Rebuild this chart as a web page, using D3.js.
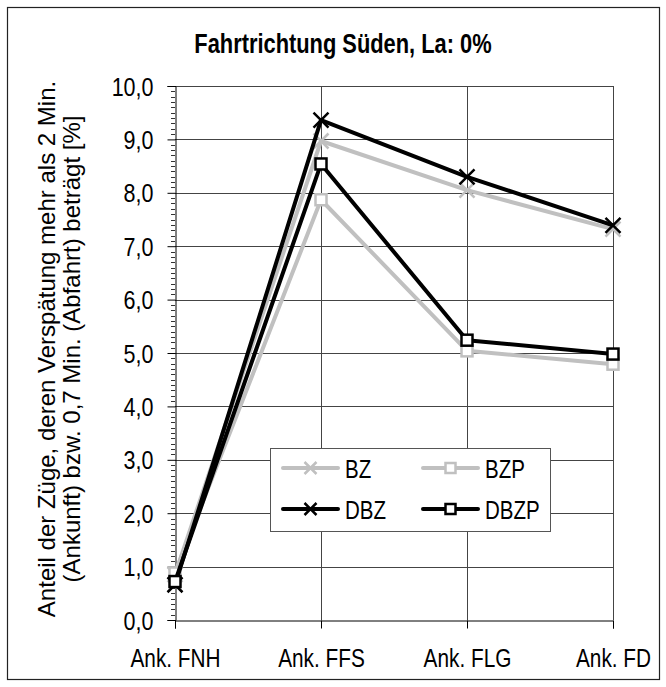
<!DOCTYPE html>
<html>
<head>
<meta charset="utf-8">
<script src="https://cdn.jsdelivr.net/npm/d3@7"></script>
<style>
  body { margin: 0; background: #fff; }
  svg text { font-family: "Liberation Sans", Arial, sans-serif; fill: #000; }
</style>
</head>
<body>
<div id="chart"></div>
<script>
var width = 666;
var height = 687;

var title = 'Fahrtrichtung Süden, La: 0%';
var yTitle = ['Anteil der Züge, deren Verspätung mehr als 2 Min.', '(Ankunft) bzw. 0,7 Min. (Abfahrt) beträgt [%]'];
var categories = ['Ank. FNH', 'Ank. FFS', 'Ank. FLG', 'Ank. FD'];
var yTicks = [0, 1, 2, 3, 4, 5, 6, 7, 8, 9, 10];

var seriesNames = ['BZ', 'BZP', 'DBZ', 'DBZP'];
var bz = [0.85, 8.97, 8.05, 7.32];
var bzp = [0.88, 7.87, 5.04, 4.79];
var dbz = [0.66, 9.36, 8.30, 7.39];
var dbzp = [0.72, 8.54, 5.24, 4.98];

var lightgrey = '#c0c0c0';
var black = '#000';

var series = [
  { name: seriesNames[0], values: bz, color: lightgrey, marker: 'x' },
  { name: seriesNames[1], values: bzp, color: lightgrey, marker: 'square' },
  { name: seriesNames[2], values: dbz, color: black, marker: 'x' },
  { name: seriesNames[3], values: dbzp, color: black, marker: 'square' }
];

var plot = { left: 175, right: 613, top: 86, bottom: 620 };

// squeeze text horizontally, the original uses a condensed font
function condense(sel, f) {
  sel.each(function() {
    var w = this.getComputedTextLength();
    d3.select(this)
      .attr('textLength', w * f)
      .attr('lengthAdjust', 'spacingAndGlyphs');
  });
}

var svg = d3.select('#chart').append('svg')
  .attr('width', width)
  .attr('height', height);

// outer frame
svg.append('rect')
  .attr('x', 7.5).attr('y', 7.5)
  .attr('width', 652).attr('height', 672)
  .attr('fill', '#fff')
  .attr('stroke', '#222')
  .attr('stroke-width', 1.2);

var titleText = svg.append('text')
  .attr('x', 343).attr('y', 53)
  .attr('text-anchor', 'middle')
  .attr('font-size', '28px')
  .attr('font-weight', 'bold')
  .text(title);
condense(titleText, 0.78);

var x = d3.scalePoint()
  .domain(categories)
  .range([plot.left, plot.right])
  .padding(0);

var y = d3.scaleLinear()
  .domain([0, 10])
  .range([plot.bottom, plot.top]);

// gridlines
svg.append('g').selectAll('line')
  .data(yTicks.slice(1))
  .enter().append('line')
  .attr('x1', plot.left).attr('x2', plot.right)
  .attr('y1', function(d){ return Math.round(y(d)) + 0.5; })
  .attr('y2', function(d){ return Math.round(y(d)) + 0.5; })
  .attr('stroke', '#444')
  .attr('stroke-width', 1);

svg.append('g').selectAll('line')
  .data(categories.slice(1))
  .enter().append('line')
  .attr('x1', function(d){ return Math.round(x(d)) + 0.5; })
  .attr('x2', function(d){ return Math.round(x(d)) + 0.5; })
  .attr('y1', plot.top).attr('y2', plot.bottom)
  .attr('stroke', '#444')
  .attr('stroke-width', 1);

// minor ticks on y axis
var minor = d3.range(0, 100).map(function(i){ return i / 10; }).filter(function(v){ return Math.round(v * 10) % 10 !== 0; });
svg.append('g').selectAll('line')
  .data(minor)
  .enter().append('line')
  .attr('x1', plot.left - 4).attr('x2', plot.left)
  .attr('y1', function(d){ return Math.round(y(d)) + 0.5; })
  .attr('y2', function(d){ return Math.round(y(d)) + 0.5; })
  .attr('stroke', '#333')
  .attr('stroke-width', 1);

// y axis
var yAxis = d3.axisLeft(y)
  .tickValues(yTicks)
  .tickSize(8)
  .tickPadding(14)
  .tickFormat(function(d){ return d3.format('.1f')(d).replace('.', ','); });

var gy = svg.append('g')
  .attr('transform', 'translate(' + (plot.left + 0.5) + ',0)')
  .call(yAxis);
gy.select('.domain').attr('stroke', '#000');
gy.selectAll('.tick line').attr('stroke', '#000');
gy.selectAll('.tick text')
  .attr('font-size', '25px')
  .attr('font-family', null)
  .attr('dy', '0.36em');
condense(gy.selectAll('.tick text'), 0.86);

// x axis
var xAxis = d3.axisBottom(x)
  .tickSize(8)
  .tickPadding(20);

var gx = svg.append('g')
  .attr('transform', 'translate(0,' + (plot.bottom + 0.5) + ')')
  .call(xAxis);
gx.select('.domain').attr('stroke', '#000');
gx.selectAll('.tick line').attr('stroke', '#000');
gx.selectAll('.tick text')
  .attr('font-size', '26px')
  .attr('font-family', null)
  .attr('transform', 'scale(0.8,1)');

// y axis title, two lines
var yt = svg.append('g')
  .attr('transform', 'translate(0,349) rotate(-90)');
yt.selectAll('text')
  .data(yTitle)
  .enter().append('text')
  .attr('x', 0)
  .attr('y', function(d, i){ return 55 + i * 25; })
  .attr('text-anchor', 'middle')
  .attr('font-size', '24px')
  .text(function(d){ return d; });

// lines
var line = d3.line()
  .x(function(d, i){ return x(categories[i]); })
  .y(function(d){ return y(d); });

function drawMarker(g, type, color, size) {
  if (type === 'x') {
    g.append('path')
      .attr('d', 'M' + (-size) + ',' + (-size) + 'L' + size + ',' + size + 'M' + (-size) + ',' + size + 'L' + size + ',' + (-size))
      .attr('stroke', color)
      .attr('stroke-width', 2.5)
      .attr('fill', 'none');
  } else {
    g.append('rect')
      .attr('x', -size).attr('y', -size)
      .attr('width', size * 2).attr('height', size * 2)
      .attr('fill', '#fff')
      .attr('stroke', color)
      .attr('stroke-width', 2.5);
  }
}

series.forEach(function(s) {
  svg.append('path')
    .datum(s.values)
    .attr('d', line)
    .attr('fill', 'none')
    .attr('stroke', s.color)
    .attr('stroke-width', 4)
    .attr('stroke-linejoin', 'round');

  s.values.forEach(function(v, i) {
    var g = svg.append('g')
      .attr('transform', 'translate(' + x(categories[i]) + ',' + y(v) + ')');
    drawMarker(g, s.marker, s.color, s.marker === 'x' ? 7.5 : 5.5);
  });
});

// legend
var legend = svg.append('g');
legend.append('rect')
  .attr('x', 270.5).attr('y', 448.5)
  .attr('width', 280).attr('height', 83)
  .attr('fill', '#fff')
  .attr('stroke', '#555')
  .attr('stroke-width', 1);

var legendPos = [
  { x: 283, y: 468 },
  { x: 423, y: 468 },
  { x: 283, y: 509 },
  { x: 423, y: 509 }
];

series.forEach(function(s, i) {
  var p = legendPos[i];
  legend.append('line')
    .attr('x1', p.x).attr('x2', p.x + 55)
    .attr('y1', p.y).attr('y2', p.y)
    .attr('stroke', s.color)
    .attr('stroke-width', 4)
    .attr('stroke-linecap', 'round');
  var g = legend.append('g')
    .attr('transform', 'translate(' + (p.x + 27.5) + ',' + p.y + ')');
  drawMarker(g, s.marker, s.color, s.marker === 'x' ? 6 : 5);
  var t = legend.append('text')
    .attr('x', p.x + 62)
    .attr('y', p.y + 10)
    .attr('font-size', '25px')
    .text(s.name);
  condense(t, 0.82);
});
</script>
</body>
</html>
